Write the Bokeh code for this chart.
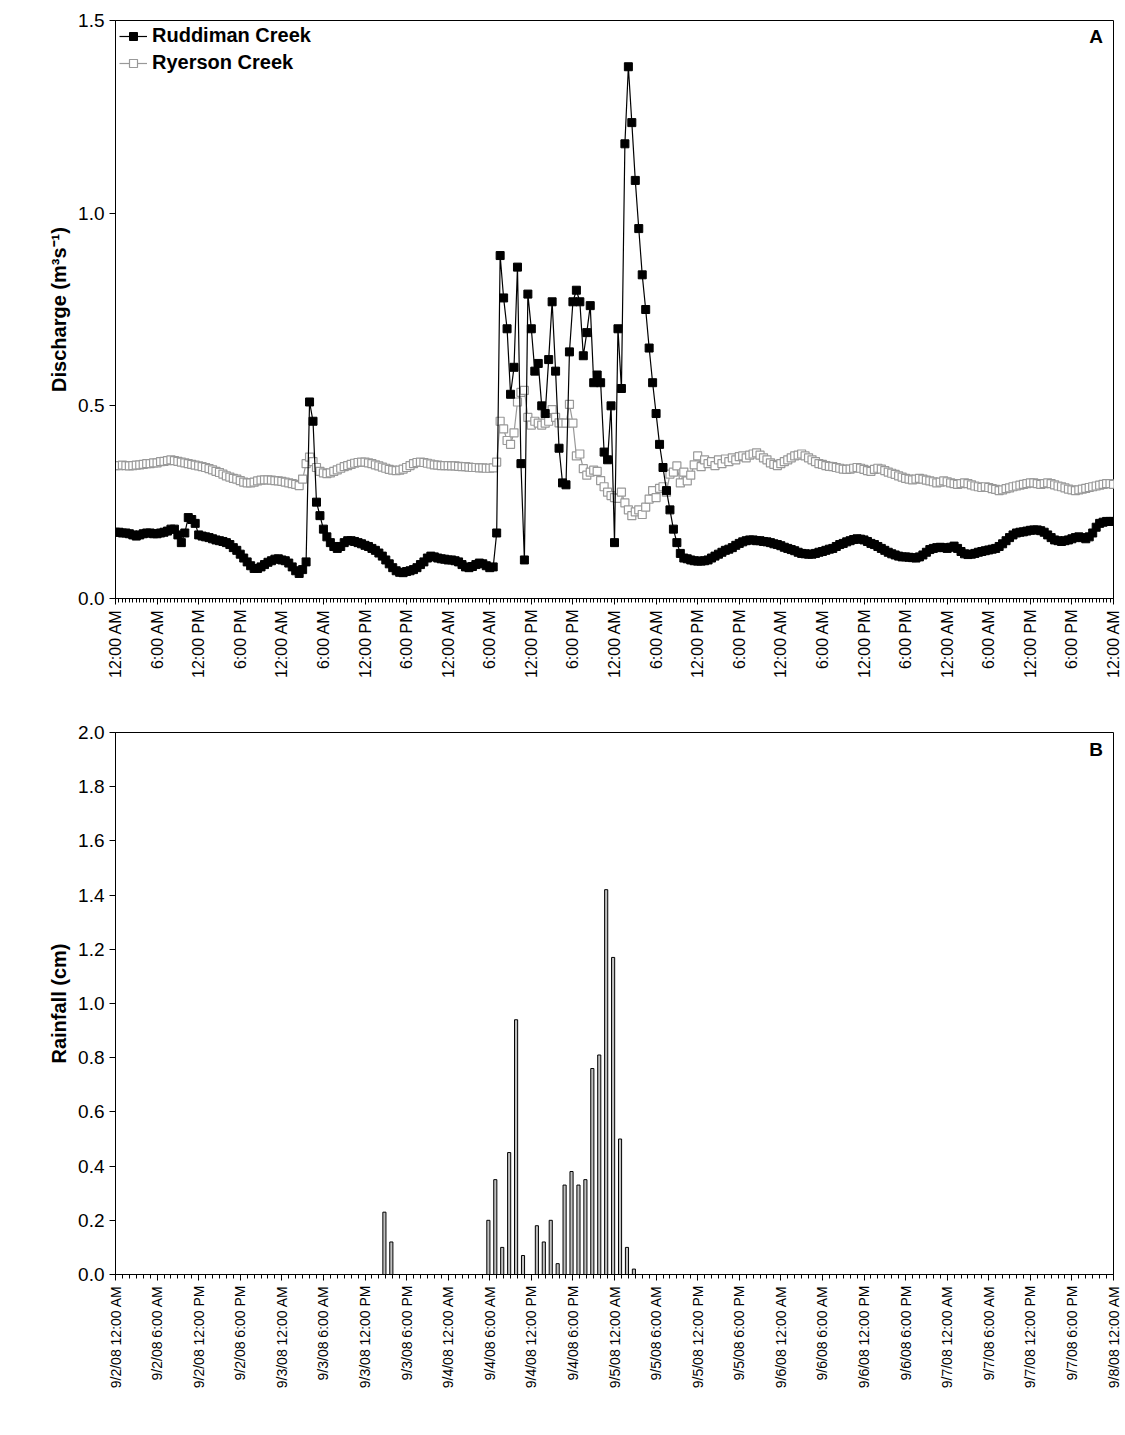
import numpy as np
from bokeh.plotting import figure
from bokeh.models import FixedTicker, Legend, LegendItem, Label
from bokeh.layouts import column
from bokeh.embed import file_html
from bokeh.resources import INLINE

# half-hourly discharge, 9/2/08 00:00 .. 9/8/08 00:00 (m3/s)
ruddiman = [
    0.172, 0.172, 0.170, 0.170, 0.168, 0.165, 0.162, 0.165, 0.168, 0.170, 0.170, 0.168, 0.168, 0.170, 0.172, 0.175, 0.180,
    0.18, 0.165, 0.145, 0.17, 0.21, 0.205, 0.195, 0.165,
    0.162, 0.160, 0.158, 0.155, 0.152, 0.150, 0.148, 0.145, 0.140, 0.132, 0.125, 0.115, 0.105, 0.095, 0.085,
    0.078, 0.078, 0.082, 0.088, 0.094, 0.098, 0.102,
    0.103, 0.100, 0.098, 0.092, 0.082, 0.072, 0.065, 0.075, 0.095,
    0.51, 0.46, 0.25, 0.215, 0.18, 0.16, 0.145, 0.135, 0.13, 0.135, 0.145, 0.15, 0.15, 0.148,
    0.145, 0.142, 0.138, 0.135, 0.13, 0.125, 0.118, 0.11, 0.10, 0.09, 0.08, 0.072, 0.068, 0.067,
    0.07, 0.072, 0.075, 0.08, 0.088, 0.095, 0.105, 0.11, 0.108, 0.105, 0.103, 0.102, 0.10, 0.10, 0.098, 0.095,
    0.088, 0.082, 0.08, 0.083, 0.088, 0.092, 0.09, 0.085, 0.08, 0.082,
    0.17, 0.89, 0.78, 0.70, 0.53, 0.60, 0.86, 0.35, 0.10, 0.79, 0.70, 0.59, 0.61, 0.50, 0.48, 0.62, 0.77, 0.59,
    0.39, 0.30, 0.295, 0.64, 0.77, 0.80, 0.77, 0.63, 0.69, 0.76, 0.56, 0.58, 0.56, 0.38, 0.36, 0.50, 0.145, 0.70,
    0.545, 1.18, 1.38, 1.235, 1.085, 0.96, 0.84, 0.75, 0.65, 0.56, 0.48, 0.40, 0.34, 0.28, 0.23, 0.18, 0.145, 0.117,
    0.105, 0.103, 0.10, 0.098, 0.097, 0.097, 0.098, 0.10, 0.105, 0.11, 0.115, 0.12,
    0.125, 0.128, 0.132, 0.138, 0.143, 0.147, 0.15, 0.152, 0.152, 0.15, 0.15, 0.148,
    0.147, 0.145, 0.142, 0.14, 0.137, 0.133, 0.13, 0.127, 0.124, 0.12, 0.117, 0.116,
    0.115, 0.115, 0.117, 0.12, 0.122, 0.125, 0.128, 0.13, 0.135, 0.14, 0.143, 0.147,
    0.15, 0.153, 0.155, 0.154, 0.152, 0.148, 0.143, 0.14, 0.135, 0.13, 0.125, 0.12,
    0.116, 0.113, 0.11, 0.108, 0.108, 0.107, 0.106, 0.105, 0.108, 0.113, 0.12, 0.127,
    0.13, 0.132, 0.133, 0.132, 0.13, 0.133, 0.136, 0.13, 0.122, 0.116, 0.114, 0.115,
    0.117, 0.12, 0.122, 0.124, 0.126, 0.128, 0.13, 0.135, 0.142, 0.15, 0.158, 0.165,
    0.17, 0.172, 0.173, 0.175, 0.177, 0.178, 0.178, 0.176, 0.172, 0.165, 0.158, 0.152,
    0.15, 0.148, 0.15, 0.152, 0.155, 0.158, 0.16, 0.158, 0.155, 0.16, 0.17, 0.185,
    0.195, 0.198, 0.20, 0.20, 0.20,
]

ryerson = [
    0.345, 0.345, 0.346, 0.345, 0.344, 0.345, 0.346, 0.347, 0.348, 0.350, 0.350, 0.352, 0.352, 0.355, 0.356, 0.358,
    0.36, 0.358, 0.356, 0.354, 0.352, 0.35, 0.348, 0.346, 0.344, 0.342, 0.34, 0.337, 0.334, 0.33, 0.327, 0.323,
    0.318, 0.315, 0.312, 0.31, 0.306, 0.302, 0.30, 0.30, 0.302, 0.305, 0.307, 0.308, 0.308, 0.307, 0.306, 0.305,
    0.304, 0.302, 0.30, 0.298, 0.296, 0.293, 0.31, 0.35,
    0.367, 0.355, 0.34, 0.33, 0.326, 0.324, 0.326, 0.33,
    0.334, 0.338, 0.342, 0.345, 0.348, 0.351, 0.353, 0.354, 0.354, 0.352, 0.35, 0.347, 0.344, 0.341, 0.338, 0.335,
    0.333, 0.332, 0.333, 0.336, 0.34, 0.345, 0.35, 0.353, 0.354, 0.353, 0.351, 0.349, 0.347, 0.346, 0.345, 0.345,
    0.345, 0.344, 0.344, 0.343, 0.342, 0.342, 0.341, 0.340, 0.340, 0.339, 0.339, 0.338, 0.338, 0.339, 0.354,
    0.46, 0.44, 0.41, 0.40, 0.43, 0.51, 0.535, 0.54, 0.47, 0.45, 0.46, 0.455, 0.45, 0.455, 0.46, 0.49, 0.47, 0.456,
    0.455, 0.455, 0.504, 0.455, 0.37, 0.375, 0.337, 0.32, 0.328, 0.333, 0.33, 0.306, 0.29, 0.276, 0.267, 0.262,
    0.26, 0.276, 0.248, 0.23, 0.215, 0.225, 0.23, 0.218, 0.237, 0.258, 0.28, 0.262, 0.286, 0.29, 0.276, 0.323,
    0.328, 0.344, 0.30, 0.328, 0.305, 0.32, 0.347, 0.37, 0.342, 0.36,
    0.35, 0.355, 0.345, 0.36, 0.35, 0.362, 0.355, 0.365, 0.36, 0.368, 0.37, 0.365,
    0.372, 0.375, 0.378, 0.372, 0.365, 0.36, 0.352, 0.348, 0.345, 0.35, 0.355, 0.36,
    0.365, 0.37, 0.372, 0.375, 0.37, 0.365, 0.36, 0.355, 0.35, 0.348, 0.345, 0.343,
    0.342, 0.34, 0.338, 0.336, 0.335, 0.336, 0.338, 0.34, 0.338, 0.335, 0.332, 0.33,
    0.335, 0.338, 0.336, 0.332, 0.328, 0.325, 0.322, 0.318, 0.315, 0.312, 0.31, 0.308,
    0.31, 0.312, 0.31, 0.307, 0.305, 0.303, 0.30, 0.302, 0.305, 0.303, 0.30, 0.298,
    0.296, 0.298, 0.30, 0.298, 0.295, 0.292, 0.29, 0.288, 0.29, 0.288, 0.285, 0.283,
    0.28, 0.282, 0.285, 0.287, 0.29, 0.292, 0.294, 0.296, 0.298, 0.30, 0.30, 0.298,
    0.296, 0.298, 0.30, 0.298, 0.295, 0.292, 0.29, 0.287, 0.284, 0.282, 0.28, 0.282,
    0.284, 0.286, 0.288, 0.29, 0.292, 0.294, 0.296, 0.298, 0.298, 0.296, 0.296, 0.296,
]

# hourly rainfall (hours after 9/2/08 00:00), only non-zero hours
rain_hours = [39, 40, 54, 55, 56, 57, 58, 59, 61, 62, 63, 64, 65, 66, 67, 68, 69, 70, 71, 72, 73, 74, 75]
rain_cm = [0.23, 0.12, 0.20, 0.35, 0.10, 0.45, 0.94, 0.07, 0.18, 0.12, 0.20, 0.04, 0.33, 0.38, 0.33, 0.35,
           0.76, 0.81, 1.42, 1.17, 0.50, 0.10, 0.02]

time_labels = ["12:00 AM", "6:00 AM", "12:00 PM", "6:00 PM"]
days = ["9/2/08", "9/3/08", "9/4/08", "9/5/08", "9/6/08", "9/7/08", "9/8/08"]

t = np.arange(len(ruddiman)) * 0.5
major = list(range(0, 145, 6))
FONT = "Liberation Sans"


def style(p):
    p.xgrid.visible = False
    p.ygrid.visible = False
    p.outline_line_color = "black"
    p.outline_line_width = 1
    p.background_fill_color = "white"
    p.border_fill_color = "white"
    for ax in (p.xaxis, p.yaxis):
        ax.axis_line_color = "black"
        ax.major_tick_line_color = "black"
        ax.minor_tick_line_color = "black"
        ax.major_tick_in = 0
        ax.major_tick_out = 6
        ax.minor_tick_in = 0
        ax.minor_tick_out = 4
        ax.major_label_text_font = FONT
        ax.major_label_text_color = "black"
    p.yaxis.major_label_text_font_size = "19px"
    p.yaxis.axis_label_text_font = FONT
    p.yaxis.axis_label_text_font_style = "bold"
    p.yaxis.axis_label_text_font_size = "20px"
    p.yaxis.axis_label_text_color = "black"
    p.xaxis.major_label_orientation = np.pi / 2
    p.yaxis.minor_tick_line_color = None


# ---- panel A
pa = figure(frame_width=998, frame_height=578, x_range=(0, 144), y_range=(0, 1.5),
            output_backend="svg", toolbar_location=None,
            min_border_left=115, min_border_right=8, min_border_top=20, min_border_bottom=100)
style(pa)
pa.xaxis.ticker = FixedTicker(ticks=major, minor_ticks=list(np.arange(0, 144.01, 0.5)))
pa.xaxis.major_label_overrides = {h: time_labels[(h // 6) % 4] for h in major}
pa.xaxis.major_label_text_font_size = "16px"
pa.yaxis.ticker = FixedTicker(ticks=[0, 0.5, 1.0, 1.5])
pa.yaxis.major_label_overrides = {0: "0.0", 0.5: "0.5", 1: "1.0", 1.5: "1.5"}
pa.yaxis.axis_label = "Discharge (m³s⁻¹)"

l2 = pa.line(t, ryerson, line_color="#999999", line_width=1.2)
s2 = pa.scatter(t, ryerson, marker="square", size=8, fill_color="white", line_color="#999999", line_width=1.2)
l1 = pa.line(t, ruddiman, line_color="black", line_width=1.2)
s1 = pa.scatter(t, ruddiman, marker="square", size=8, fill_color="black", line_color="black")

leg = Legend(items=[LegendItem(label="Ruddiman Creek", renderers=[l1, s1]),
                    LegendItem(label="Ryerson Creek", renderers=[l2, s2])],
             location="top_left", border_line_color=None, background_fill_alpha=0,
             label_text_font=FONT, label_text_font_style="bold", label_text_font_size="20px",
             label_text_color="black", glyph_width=28, spacing=4, padding=4, margin=4)
pa.add_layout(leg)
pa.add_layout(Label(x=140.5, y=1.43, text="A", text_font=FONT, text_font_style="bold",
                    text_font_size="19px", text_color="black"))

# ---- panel B
pb = figure(frame_width=998, frame_height=542, x_range=(0, 144), y_range=(0, 2.0),
            output_backend="svg", toolbar_location=None,
            min_border_left=115, min_border_right=8, min_border_top=34, min_border_bottom=150)
style(pb)
pb.xaxis.ticker = FixedTicker(ticks=major, minor_ticks=list(range(0, 145)))
pb.xaxis.major_label_overrides = {h: days[h // 24] + " " + time_labels[(h // 6) % 4] for h in major}
pb.xaxis.major_label_text_font_size = "14px"
yt = [round(0.2 * i, 1) for i in range(11)]
pb.yaxis.ticker = FixedTicker(ticks=yt)
pb.yaxis.major_label_overrides = {v: f"{v:.1f}" for v in yt}
pb.yaxis.axis_label = "Rainfall (cm)"
pb.vbar(x=[h - 0.2 for h in rain_hours], top=rain_cm, width=0.45, fill_color="#c0c0c0",
        line_color="black", line_width=1)
pb.add_layout(Label(x=140.5, y=1.9, text="B", text_font=FONT, text_font_style="bold",
                    text_font_size="19px", text_color="black"))

layout = column(pa, pb, spacing=0)
open("out.html", "w").write(file_html(layout, INLINE))
